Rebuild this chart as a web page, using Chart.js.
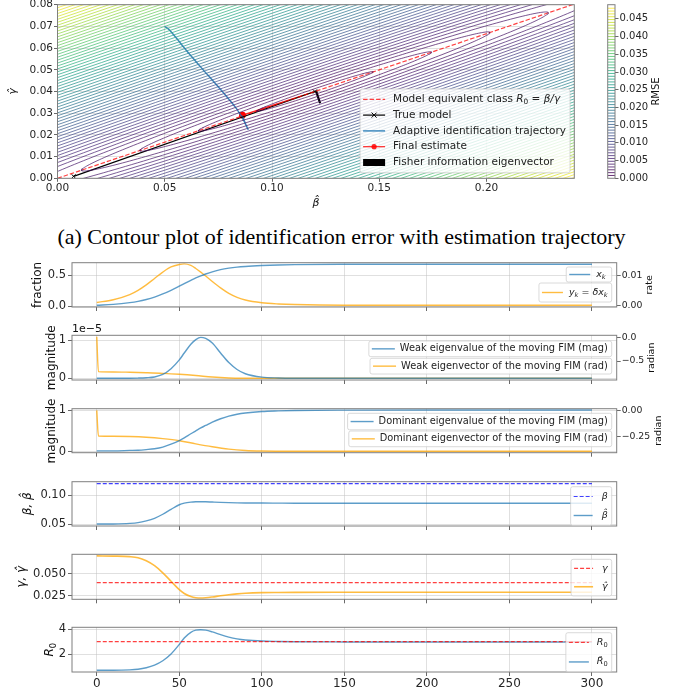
<!DOCTYPE html>
<html>
<head>
<meta charset="utf-8">
<script src="https://cdn.jsdelivr.net/npm/chart.js@4.4.0/dist/chart.umd.min.js"></script>
<style>
  html, body { margin: 0; padding: 0; background: #fff; }
  body { width: 683px; height: 694px; position: relative; overflow: hidden; }
  canvas { position: absolute; }
  #caption { position: absolute; left: 0; top: 224px; width: 683px; text-align: center;
    font-family: "Liberation Serif", "DejaVu Serif", serif; font-size: 22px; color: #000; white-space: nowrap; }
</style>
</head>
<body>
<div id="caption">(a) Contour plot of identification error with estimation trajectory</div>
<script>
// ---- time series ----
var steps = [0, 10, 20, 25, 30, 35, 40, 45, 50, 53, 57, 60, 63, 66, 70, 75, 80, 85, 90, 100, 110, 120, 150, 200, 250, 300];
var fractionX = [0.020, 0.034, 0.062, 0.083, 0.113, 0.152, 0.202, 0.261, 0.327, 0.368, 0.421, 0.459, 0.493, 0.523, 0.558, 0.593, 0.617, 0.634, 0.645, 0.659, 0.668, 0.674, 0.679, 0.680, 0.680, 0.680];
var rateY = [0.0010, 0.0019, 0.0036, 0.0050, 0.0068, 0.0089, 0.0110, 0.0127, 0.0135, 0.0137, 0.0132, 0.0122, 0.0110, 0.0097, 0.0079, 0.0058, 0.0040, 0.0027, 0.0018, 0.0009, 0.0005, 0.0003, 0.0001, 0.0001, 0.0001, 0.0001];
var weakEigval = [0, 0, 0.002e-5, 0.006e-5, 0.015e-5, 0.035e-5, 0.10e-5, 0.25e-5, 0.48e-5, 0.66e-5, 0.89e-5, 1.01e-5, 1.07e-5, 1.04e-5, 0.92e-5, 0.66e-5, 0.41e-5, 0.23e-5, 0.12e-5, 0.03e-5, 0.008e-5, 0.002e-5, 0, 0, 0, 0];
var domEigval = [0.02, 0.02, 0.03, 0.035, 0.05, 0.07, 0.11, 0.18, 0.265, 0.33, 0.43, 0.50, 0.57, 0.63, 0.71, 0.79, 0.855, 0.90, 0.93, 0.965, 0.98, 0.99, 0.998, 1.0, 1.0, 1.0];
var betaHat = [0.0500, 0.0502, 0.0512, 0.0525, 0.0555, 0.0600, 0.0670, 0.0755, 0.0835, 0.0862, 0.0880, 0.0886, 0.0888, 0.0887, 0.0882, 0.0876, 0.0871, 0.0868, 0.0866, 0.0864, 0.0863, 0.0862, 0.0862, 0.0862, 0.0862, 0.0862];
var gammaHat = [0.0700, 0.0698, 0.0692, 0.0680, 0.0645, 0.0590, 0.0510, 0.0415, 0.0320, 0.0277, 0.0243, 0.0230, 0.0226, 0.0229, 0.0238, 0.0252, 0.0264, 0.0273, 0.0280, 0.0287, 0.0289, 0.0290, 0.0291, 0.0291, 0.0291, 0.0291];
var r0Hat = [0.72, 0.72, 0.75, 0.80, 0.92, 1.13, 1.48, 2.02, 2.78, 3.30, 3.75, 3.92, 3.96, 3.92, 3.78, 3.56, 3.37, 3.23, 3.14, 3.05, 3.02, 3.00, 2.98, 2.97, 2.97, 2.97];

// eigenvector angles jump at the first step, so they have their own steps
var vecSteps = [0, 1, 10, 20, 30, 40, 50, 60, 70, 80, 90, 100, 120, 150, 200, 250, 300];
var weakEigvec = [0.02, -0.728, -0.735, -0.742, -0.752, -0.765, -0.785, -0.812, -0.845, -0.864, -0.870, -0.871, -0.871, -0.871, -0.871, -0.871, -0.871];
var domEigvec = [0.0, -0.241, -0.243, -0.246, -0.253, -0.266, -0.285, -0.315, -0.342, -0.364, -0.377, -0.382, -0.384, -0.384, -0.384, -0.384, -0.384];

var trueBeta = 0.12, trueGamma = 0.04, trueR0 = 3;

// ---- contour plot ----
var trueModelBeta = [0.0075, 0.12];
var trueModelGamma = [0.0009, 0.04];
var fisherBeta = [0.1205, 0.1224];
var fisherGamma = [0.0404, 0.0346];
var rmseLevels = [0.0008, 0.0016, 0.0024, 0.0032, 0.0040, 0.0048, 0.0056, 0.0064, 0.0072, 0.0080,
  0.0088, 0.0096, 0.0104, 0.0112, 0.0120, 0.0128, 0.0136, 0.0144, 0.0152, 0.0160,
  0.0168, 0.0176, 0.0184, 0.0192, 0.0200, 0.0208, 0.0216, 0.0224, 0.0232, 0.0240,
  0.0248, 0.0256, 0.0264, 0.0272, 0.0280, 0.0288, 0.0296, 0.0304, 0.0312, 0.0320,
  0.0328, 0.0336, 0.0344, 0.0352, 0.0360, 0.0368, 0.0376, 0.0384, 0.0392, 0.0400,
  0.0408, 0.0416, 0.0424, 0.0432, 0.0440, 0.0448, 0.0456, 0.0464, 0.0472, 0.0480];
// how far a contour reaches along the valley (beta) and across it (gamma), per unit of RMSE
var spanPerRmse = 34;
var widthPerRmse = 1.67;

// ---- ticks ----
var timeTicks = [0, 50, 100, 150, 200, 250, 300];
var timeLabels = ['0', '50', '100', '150', '200', '250', '300'];
var betaTicks = [0, 0.05, 0.10, 0.15, 0.20];
var betaLabels = ['0.00', '0.05', '0.10', '0.15', '0.20'];
var gammaTicks = [0, 0.01, 0.02, 0.03, 0.04, 0.05, 0.06, 0.07, 0.08];
var gammaLabels = ['0.00', '0.01', '0.02', '0.03', '0.04', '0.05', '0.06', '0.07', '0.08'];
var rmseTicks = [0, 0.005, 0.010, 0.015, 0.020, 0.025, 0.030, 0.035, 0.040, 0.045];
var rmseLabels = ['0.000', '0.005', '0.010', '0.015', '0.020', '0.025', '0.030', '0.035', '0.040', '0.045'];
var fracTicks = [0, 0.5], fracLabels = ['0.0', '0.5'];
var rateTicks = [0, 0.01], rateLabels = ['0.00', '0.01'];
var magTicks = [0, 1e-5], magLabels = ['0', '1'];
var weakRadTicks = [0, -0.5], weakRadLabels = ['0.0', '\u22120.5'];
var domMagTicks = [0, 1], domMagLabels = ['0', '1'];
var domRadTicks = [0, -0.25], domRadLabels = ['0.00', '\u22120.25'];
var betaPanelTicks = [0.05, 0.10], betaPanelLabels = ['0.05', '0.10'];
var gammaPanelTicks = [0.025, 0.050], gammaPanelLabels = ['0.025', '0.050'];
var r0Ticks = [2, 4], r0Labels = ['2', '4'];

var FONT = '"DejaVu Sans"';
var BLUE = 'rgba(31,119,180,0.72)';
var ORANGE = 'rgba(255,165,0,0.75)';
var RED = 'rgba(255,0,0,0.75)';
var PURE_BLUE = 'rgba(0,0,255,0.75)';
var GRID = 'rgba(190,190,190,0.6)';
var VIRIDIS = ['#440154', '#482475', '#414487', '#355f8d', '#2a788e', '#21918c', '#22a884', '#44bf70', '#7ad151', '#bddf26', '#fde725'];

function hexRgb(h) { return [1, 3, 5].map(function(i) { return parseInt(h.substr(i, 2), 16); }); }
function viridis(t, alpha) {
  t = Math.min(1, Math.max(0, t));
  var p = t * (VIRIDIS.length - 1), i = Math.min(Math.floor(p), VIRIDIS.length - 2), f = p - i;
  var a = hexRgb(VIRIDIS[i]), b = hexRgb(VIRIDIS[i + 1]);
  var c = a.map(function(v, k) { return Math.round(v + (b[k] - v) * f); });
  return 'rgba(' + c[0] + ',' + c[1] + ',' + c[2] + ',' + alpha + ')';
}
function levelColor(level) {
  return viridis((level - rmseLevels[0]) / (rmseLevels[rmseLevels.length - 1] - rmseLevels[0]), 0.8);
}

// ---- small "mathtext": $...$ is italic, _c is a subscript ----
function parseRich(str) {
  var runs = [], it = false;
  for (var i = 0; i < str.length; i++) {
    var c = str[i];
    if (c === '$') { it = !it; continue; }
    if (c === '_') { runs.push({t: str[i + 1], it: it, sub: true}); i++; continue; }
    if (/[\u0300-\u036f]/.test(c) && runs.length) { runs[runs.length - 1].t += c; continue; }
    var last = runs[runs.length - 1];
    if (last && last.it === it && !last.sub) last.t += c;
    else runs.push({t: c, it: it, sub: false});
  }
  return runs;
}
function runFont(r, size) {
  var s = r.sub ? size * 0.7 : size;
  return (r.it && !/^\d+$/.test(r.t) ? 'italic ' : '') + s + 'px ' + FONT;
}
function richWidth(ctx, str, size) {
  return parseRich(str).reduce(function(w, r) { ctx.font = runFont(r, size); return w + ctx.measureText(r.t).width; }, 0);
}
function drawRich(ctx, str, x, y, size, align, color) {
  var w = richWidth(ctx, str, size);
  var cx = align === 'center' ? x - w / 2 : (align === 'right' ? x - w : x);
  ctx.fillStyle = color || '#111';
  ctx.textBaseline = 'middle';
  ctx.textAlign = 'left';
  parseRich(str).forEach(function(r) {
    ctx.font = runFont(r, size);
    ctx.fillText(r.t, cx, y + (r.sub ? size * 0.28 : 0));
    cx += ctx.measureText(r.t).width;
  });
}

function drawLegend(chart, L, off) {
  var ctx = chart.ctx;
  var fs = L.fs || 9, handle = L.handle || 21, padL = L.padL || 3, gap = L.gap || 6, padR = L.padR || 5, padY = L.padY || 0;
  var tw = Math.max.apply(null, L.items.map(function(it) { return richWidth(ctx, it.label, fs); }));
  var w = padL + handle + gap + tw + padR, h = padY * 2 + L.rowH * L.items.length;
  var x0 = L.right - off.x - w, y0 = L.top - off.y;
  ctx.save();
  ctx.beginPath();
  if (ctx.roundRect) ctx.roundRect(x0, y0, w, h, 2); else ctx.rect(x0, y0, w, h);
  ctx.fillStyle = 'rgba(255,255,255,0.8)';
  ctx.fill();
  ctx.strokeStyle = 'rgba(204,204,204,0.9)';
  ctx.lineWidth = 0.8;
  ctx.stroke();
  L.items.forEach(function(it, i) {
    var ds = chart.data.datasets[it.ds];
    var cy = y0 + padY + L.rowH * (i + 0.5), hx = x0 + padL;
    if (it.patch) {
      ctx.fillStyle = '#000';
      ctx.fillRect(hx, cy - 3.5, handle, 7);
    } else {
      ctx.strokeStyle = ds.borderColor;
      ctx.lineWidth = ds.borderWidth;
      ctx.setLineDash(ds.borderDash || []);
      ctx.beginPath(); ctx.moveTo(hx, cy); ctx.lineTo(hx + handle, cy); ctx.stroke();
      ctx.setLineDash([]);
      var mx = hx + handle / 2;
      if (it.marker === 'x') {
        ctx.lineWidth = 1;
        ctx.beginPath();
        ctx.moveTo(mx - 2.5, cy - 2.5); ctx.lineTo(mx + 2.5, cy + 2.5);
        ctx.moveTo(mx - 2.5, cy + 2.5); ctx.lineTo(mx + 2.5, cy - 2.5);
        ctx.stroke();
      }
      if (it.marker === 'dot') {
        ctx.fillStyle = ds.borderColor;
        ctx.beginPath(); ctx.arc(mx, cy, 2.6, 0, Math.PI * 2); ctx.fill();
      }
    }
    drawRich(ctx, it.label, hx + handle + gap, cy, fs, 'left', '#222');
  });
  ctx.restore();
}

Chart.register({
  id: 'extras',
  afterDatasetsDraw: function(chart, args, opts) {
    var ctx = chart.ctx, a = chart.chartArea, off = opts.off || {x: 0, y: 0};
    ctx.save();
    ctx.strokeStyle = '#7f7f7f';
    ctx.lineWidth = 1;
    ctx.strokeRect(a.left, a.top, a.right - a.left, a.bottom - a.top);
    ctx.restore();
    (opts.legends || []).forEach(function(l) { drawLegend(chart, l, off); });
    (opts.texts || []).forEach(function(t) {
      ctx.save();
      ctx.translate(t.x - off.x, t.y - off.y);
      ctx.rotate(t.rot || 0);
      drawRich(ctx, t.s, 0, 0, t.size, t.align || 'center', t.color || '#111');
      ctx.restore();
    });
  }
});

function makeCanvas(id, left, top, w, h) {
  var c = document.createElement('canvas');
  c.id = id; c.width = w; c.height = h;
  c.style.left = left + 'px'; c.style.top = top + 'px';
  c.style.width = w + 'px'; c.style.height = h + 'px';
  document.body.appendChild(c);
  return c;
}

function axis(o) {
  return {
    type: 'linear', position: o.position, min: o.min, max: o.max,
    afterBuildTicks: function(s) { s.ticks = o.ticks.map(function(v) { return {value: v}; }); },
    afterFit: function(s) {
      if (o.width != null) s.width = o.width;
      if (o.height != null) s.height = o.height;
    },
    ticks: {
      display: !!o.labels, autoSkip: false, maxRotation: 0, minRotation: 0,
      padding: o.pad == null ? 2 : o.pad, color: '#262626',
      font: {family: 'DejaVu Sans', size: o.fs},
      callback: function(v, i) { return o.labels ? o.labels[i] : ''; }
    },
    grid: {
      drawOnChartArea: o.grid !== false, color: o.gridColor || GRID, lineWidth: 0.8,
      drawTicks: true, tickLength: o.tickLen || 4, tickColor: '#444', tickWidth: 0.8
    },
    border: {display: false}
  };
}

function series(xs, ys, color, axisId, extra) {
  var ds = {
    data: xs.map(function(x, i) { return {x: x, y: ys[i]}; }),
    showLine: true, borderColor: color, backgroundColor: color, borderWidth: 1.4,
    pointRadius: 0, cubicInterpolationMode: 'monotone', yAxisID: axisId || 'y'
  };
  return Object.assign(ds, extra || {});
}

var baseOpts = {responsive: false, animation: false, events: []};

// ---------- contour plot ----------
var betaMax = 0.2409;
var contourSets = rmseLevels.map(function(level) {
  var pts = [], a = spanPerRmse * level, b = widthPerRmse * level;
  for (var i = 0; i <= 240; i++) {
    var th = i / 240 * 2 * Math.PI;
    var bx = trueBeta + a * Math.cos(th);
    pts.push({x: bx, y: bx / trueR0 + b * Math.sin(th)});
  }
  return {data: pts, showLine: true, borderColor: levelColor(level), borderWidth: 0.9, pointRadius: 0, tension: 0};
});
var nC = contourSets.length;
var r0Line = series([0, betaMax], [0, betaMax * trueGamma / trueBeta], RED, 'y', {borderDash: [4.5, 2], borderWidth: 1.2, cubicInterpolationMode: 'default'});
var trueLine = series(trueModelBeta, trueModelGamma, '#000', 'y', {borderWidth: 1.2, pointStyle: 'crossRot', pointRadius: 3, pointBorderWidth: 1, pointBorderColor: '#000', cubicInterpolationMode: 'default'});
var trajLine = series(betaHat, gammaHat, 'rgba(31,119,180,0.85)', 'y', {borderWidth: 1.5, cubicInterpolationMode: 'default', tension: 0.3});
var finalLine = series([betaHat[betaHat.length - 1], trueBeta], [gammaHat[gammaHat.length - 1], trueGamma], 'rgba(255,0,0,0.85)', 'y',
  {borderWidth: 1.2, pointRadius: [2.8, 0], pointBackgroundColor: 'red', pointBorderColor: 'red', cubicInterpolationMode: 'default'});
var fisherLine = series(fisherBeta, fisherGamma, '#000', 'y', {borderWidth: 2.2, cubicInterpolationMode: 'default'});

var cc = makeCanvas('contour', 0, -10, 600, 225);
new Chart(cc, {
  type: 'scatter',
  data: {datasets: contourSets.concat([r0Line, trueLine, trajLine, finalLine, fisherLine])},
  options: Object.assign({}, baseOpts, {
    layout: {padding: {top: 14.7, left: 0, right: 25.7, bottom: 0}},
    scales: {
      x: axis({min: 0, max: betaMax, ticks: betaTicks, labels: betaLabels, position: 'bottom', height: 225 - 188.3, fs: 10.5, pad: 0, tickLen: 3.5}),
      y: axis({min: 0, max: 0.08, ticks: gammaTicks, labels: gammaLabels, position: 'left', width: 57.5, fs: 10.5, pad: 1, tickLen: 3.5})
    },
    plugins: {
      legend: {display: false}, tooltip: {enabled: false},
      extras: {
        off: {x: 0, y: -10},
        texts: [
          {s: '$\u03b3\u0302$', x: 13, y: 91.5, size: 11, rot: -Math.PI / 2},
          {s: '$\u03b2\u0302$', x: 316, y: 203, size: 11}
        ],
        legends: [{
          right: 570, top: 89, fs: 10.5, rowH: 15.8, padY: 2.4, handle: 22, padL: 3, gap: 8, padR: 4,
          items: [
            {ds: nC, label: 'Model equivalent class $R_0 = \u03b2/\u03b3$'},
            {ds: nC + 1, label: 'True model', marker: 'x'},
            {ds: nC + 2, label: 'Adaptive identification trajectory'},
            {ds: nC + 3, label: 'Final estimate', marker: 'dot'},
            {ds: nC + 4, label: 'Fisher information eigenvector', patch: true}
          ]
        }]
      }
    }
  })
});

// ---------- colour bar ----------
var cb = makeCanvas('cbar', 600, -10, 83, 225);
new Chart(cb, {
  type: 'scatter',
  data: {datasets: rmseLevels.map(function(level) {
    return {data: [{x: 0, y: level}, {x: 1, y: level}], showLine: true, borderColor: levelColor(level), borderWidth: 1, pointRadius: 0};
  })},
  options: Object.assign({}, baseOpts, {
    layout: {padding: {top: 14.7, left: 7.7, right: 0, bottom: 36.7}},
    scales: {
      x: {type: 'linear', display: false, min: 0, max: 1},
      y: axis({min: 0, max: 0.049, ticks: rmseTicks, labels: rmseLabels, position: 'right', width: 68, fs: 10, pad: 1, grid: false, tickLen: 3.5})
    },
    plugins: {
      legend: {display: false}, tooltip: {enabled: false},
      extras: {off: {x: 600, y: -10}, texts: [{s: 'RMSE', x: 656.7, y: 91.5, size: 10, rot: -Math.PI / 2}]}
    }
  })
});

// ---------- stacked time panels ----------
function makePanel(id, top, bottom, c) {
  var cTop = Math.floor(top) - 12;
  var xSpace = c.xLabels ? 24 : 10;
  var H = Math.ceil(bottom - cTop + xSpace);
  var canvas = makeCanvas(id, 0, cTop, 683, H);
  var scales = {
    x: axis({min: -15, max: 315, ticks: timeTicks, labels: c.xLabels ? timeLabels : null, position: 'bottom', height: H - (bottom - cTop), fs: 12, pad: 1}),
    y: axis(Object.assign({position: 'left', width: 72, fs: 11.5, pad: 2}, c.y))
  };
  if (c.y1) scales.y1 = axis(Object.assign({position: 'right', width: 683 - 616.7, fs: 9.3, grid: false, pad: 1}, c.y1));
  new Chart(canvas, {
    type: 'scatter',
    data: {datasets: c.datasets},
    options: Object.assign({}, baseOpts, {
      layout: {padding: {top: top - cTop, left: 0, right: c.y1 ? 0 : 683 - 616.7, bottom: 0}},
      scales: scales,
      plugins: {legend: {display: false}, tooltip: {enabled: false},
        extras: {off: {x: 0, y: cTop}, texts: c.texts, legends: c.legends}}
    })
  });
}

var ROT = -Math.PI / 2;

makePanel('p1', 262.7, 307, {
  datasets: [series(steps, fractionX, BLUE, 'y'), series(steps, rateY, ORANGE, 'y1')],
  y: {min: -0.008, max: 0.705, ticks: fracTicks, labels: fracLabels},
  y1: {min: -0.0005, max: 0.0141, ticks: rateTicks, labels: rateLabels},
  texts: [{s: 'fraction', x: 38, y: 284.9, size: 12, rot: ROT}, {s: 'rate', x: 650, y: 284.9, size: 9.5, rot: ROT}],
  legends: [
    {right: 611.7, top: 267, rowH: 15, fs: 9.5, padR: 6, items: [{ds: 0, label: '$x_k$'}]},
    {right: 611.7, top: 283, rowH: 19, fs: 9.5, padR: 4, items: [{ds: 1, label: '$y_k = \u03b4x_k$'}]}
  ]
});

makePanel('p2', 335.3, 380, {
  datasets: [series(steps, weakEigval, BLUE, 'y'), series(vecSteps, weakEigvec, ORANGE, 'y1')],
  y: {min: -0.044e-5, max: 1.123e-5, ticks: magTicks, labels: magLabels},
  y1: {min: -0.908, max: 0.052, ticks: weakRadTicks, labels: weakRadLabels},
  texts: [{s: 'magnitude', x: 52, y: 357.7, size: 12, rot: ROT}, {s: 'radian', x: 652, y: 357.7, size: 9.5, rot: ROT},
    {s: '1e\u22125', x: 72, y: 329.5, size: 11, align: 'left'}],
  legends: [
    {right: 611.7, top: 341, rowH: 15.7, fs: 9.8, handle: 23, gap: 5, padR: 4, items: [{ds: 0, label: 'Weak eigenvalue of the moving FIM (mag)'}]},
    {right: 611.7, top: 358.3, rowH: 15.7, fs: 9.8, handle: 23, gap: 5, padR: 4, items: [{ds: 1, label: 'Weak eigenvector of the moving FIM (rad)'}]}
  ]
});

makePanel('p3', 408.7, 452.7, {
  datasets: [series(steps, domEigval, BLUE, 'y'), series(vecSteps, domEigvec, ORANGE, 'y1')],
  y: {min: -0.025, max: 1.032, ticks: domMagTicks, labels: domMagLabels},
  y1: {min: -0.398, max: 0.016, ticks: domRadTicks, labels: domRadLabels},
  texts: [{s: 'magnitude', x: 52, y: 431, size: 12, rot: ROT}, {s: 'radian', x: 658.5, y: 430.7, size: 9.5, rot: ROT}],
  legends: [
    {right: 611.7, top: 413.3, rowH: 16.5, fs: 9.8, handle: 23, gap: 5, padR: 4, items: [{ds: 0, label: 'Dominant eigenvalue of the moving FIM (mag)'}]},
    {right: 611.7, top: 431, rowH: 15.7, fs: 9.8, handle: 23, gap: 5, padR: 4, items: [{ds: 1, label: 'Dominant eigenvector of the moving FIM (rad)'}]}
  ]
});

makePanel('p4', 481.7, 526, {
  datasets: [series([0, 300], [trueBeta, trueBeta], PURE_BLUE, 'y', {borderDash: [4, 2], borderWidth: 1.2}), series(steps, betaHat, BLUE, 'y')],
  y: {min: 0.0466, max: 0.1235, ticks: betaPanelTicks, labels: betaPanelLabels},
  texts: [{s: '$\u03b2, \u03b2\u0302$', x: 28, y: 503.8, size: 12, rot: ROT}],
  legends: [{right: 611.7, top: 486.7, rowH: 19, padY: 0.3, fs: 9.5, handle: 19, gap: 9, padR: 4,
    items: [{ds: 0, label: '$\u03b2$'}, {ds: 1, label: '$\u03b2\u0302$'}]}]
});

makePanel('p5', 554.3, 599.3, {
  datasets: [series([0, 300], [trueGamma, trueGamma], RED, 'y', {borderDash: [4, 2], borderWidth: 1.2}), series(steps, gammaHat, ORANGE, 'y', {borderWidth: 1.6})],
  y: {min: 0.0212, max: 0.0718, ticks: gammaPanelTicks, labels: gammaPanelLabels},
  texts: [{s: '$\u03b3, \u03b3\u0302$', x: 22, y: 576.8, size: 12, rot: ROT}],
  legends: [{right: 611.7, top: 559.3, rowH: 18.3, fs: 9.5, handle: 19, gap: 9, padR: 4,
    items: [{ds: 0, label: '$\u03b3$'}, {ds: 1, label: '$\u03b3\u0302$'}]}]
});

makePanel('p6', 627.3, 672, {
  datasets: [series([0, 300], [trueR0, trueR0], RED, 'y', {borderDash: [4, 2], borderWidth: 1.2}), series(steps, r0Hat, BLUE, 'y')],
  y: {min: 0.58, max: 4.15, ticks: r0Ticks, labels: r0Labels},
  xLabels: true,
  texts: [{s: '$R_0$', x: 50, y: 649.7, size: 12, rot: ROT}],
  legends: [{right: 611.7, top: 632.7, rowH: 19.5, fs: 9.5, handle: 20, gap: 8, padR: 4,
    items: [{ds: 0, label: '$R_0$'}, {ds: 1, label: '$R\u0302_0$'}]}]
});
</script>
</body>
</html>
